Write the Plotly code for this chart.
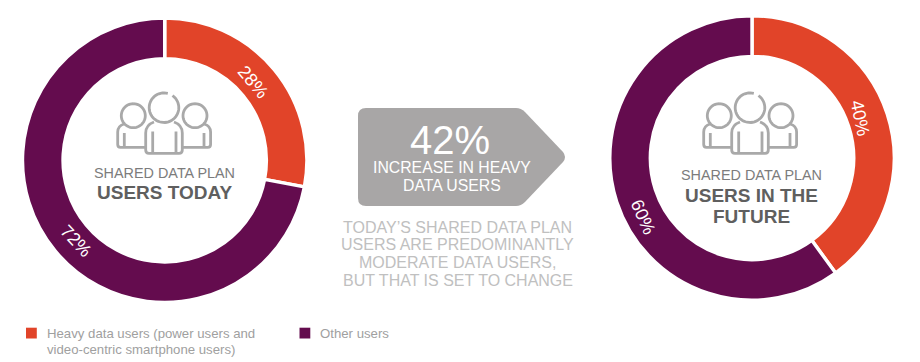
import math
import plotly.graph_objects as go

W, H = 920, 362

categories = ["Heavy data users", "Other users"]
today_values = [28, 72]
future_values = [40, 60]

ORANGE = "#E14429"
PURPLE = "#640C4E"
GREY_ICON = "#A9A9A9"
FONT = "Liberation Sans"


def px(x):
    return x / W


def py(y):
    return 1 - y / H


def path(cmds):
    out = []
    for c in cmds:
        if isinstance(c, str):
            out.append(c)
        else:
            out.append(f"{px(c[0]):.5f},{py(c[1]):.5f}")
    return " ".join(out)


fig = go.Figure()


def donut(values, cx, cy, r):
    fig.add_trace(go.Pie(
        labels=categories, values=values, hole=0.715, sort=False,
        direction="clockwise", rotation=0, textinfo="none", hoverinfo="skip",
        showlegend=False,
        marker=dict(colors=[ORANGE, PURPLE], line=dict(color="white", width=3.4)),
        domain=dict(x=[px(cx - r), px(cx + r)], y=[py(cy + r), py(cy - r)]),
    ))


donut(today_values, 164.7, 160.3, 142.2)
donut(future_values, 752, 158, 142.2)

shapes = []
annotations = []


def text(x, y, s, size, color, bold=False, angle=0, anchor="center"):
    annotations.append(dict(
        x=px(x), y=py(y), xref="paper", yref="paper", text=f"<b>{s}</b>" if bold else s,
        showarrow=False, textangle=angle, xanchor=anchor, yanchor="middle",
        font=dict(family=FONT, size=size, color=color),
    ))


def arc_path(cx, cy, r, a0, a1, n=48):
    pts = []
    for i in range(n + 1):
        a = math.radians(a0 + (a1 - a0) * i / n)
        pts.append((cx + r * math.sin(a), cy - r * math.cos(a)))
    return path(["M", pts[0]] + [c for p in pts[1:] for c in ("L", p)])


def icon(dx, dy):
    line = dict(color=GREY_ICON, width=2.8)

    def add(d):
        shapes.append(dict(type="path", xref="paper", yref="paper", path=d, line=line))

    def P(x, y):
        return (x + dx, y + dy)

    add(arc_path(164 + dx, 107.7 + dy, 14.8, 35, 375))
    add(arc_path(133.3 + dx, 115.7 + dy, 12, 0, 360))
    add(arc_path(195 + dx, 115.7 + dy, 12, 0, 360))
    # centre body
    add(path(["M", P(154, 122), "Q", P(145.7, 125), P(145.7, 133), "L", P(145.7, 150),
              "Q", P(145.7, 153.3), P(149, 153.3), "L", P(179, 153.3),
              "Q", P(182.3, 153.3), P(182.3, 150), "L", P(182.3, 133),
              "Q", P(182.3, 125), P(174, 122)]))
    add(path(["M", P(152.7, 131.5), "L", P(152.7, 153)]))
    add(path(["M", P(176, 131.5), "L", P(176, 153)]))
    # left body
    add(path(["M", P(124, 124), "Q", P(117.7, 126), P(117.7, 132), "L", P(117.7, 144.5),
              "Q", P(117.7, 147.3), P(120.5, 147.3), "L", P(145, 147.3)]))
    add(path(["M", P(124.3, 133), "L", P(124.3, 147)]))
    # right body
    add(path(["M", P(204.3, 124), "Q", P(210.6, 126), P(210.6, 132), "L", P(210.6, 144.5),
              "Q", P(210.6, 147.3), P(207.8, 147.3), "L", P(183, 147.3)]))
    add(path(["M", P(204, 133), "L", P(204, 147)]))


icon(0, 0)
icon(586, 0)

# arrow tag
shapes.append(dict(
    type="path", xref="paper", yref="paper", fillcolor="#A8A6A6",
    line=dict(color="#A8A6A6", width=0),
    path=path(["M", (366, 108), "L", (516, 108), "Q", (521, 108), (525, 112),
               "L", (563, 152), "Q", (567, 157), (563, 162),
               "L", (525, 202), "Q", (521, 206), (516, 206),
               "L", (366, 206), "Q", (358, 206), (358, 198),
               "L", (358, 116), "Q", (358, 108), (366, 108), "Z"]),
))

# legend swatches
for x0, color in ((26, ORANGE), (299.5, PURPLE)):
    shapes.append(dict(type="rect", xref="paper", yref="paper", x0=px(x0), x1=px(x0 + 10.8),
                       y0=py(338.5), y1=py(327.7), fillcolor=color, line=dict(color=color, width=0)))

# percentage labels
text(253, 82, f"{today_values[0]}%", 18, "white", angle=50)
text(76, 241, f"{today_values[1]}%", 18, "white", angle=47)
text(860, 118, f"{future_values[0]}%", 18, "white", angle=78)
text(643, 217, f"{future_values[1]}%", 18, "white", angle=66)

# centre labels
text(164.7, 173, "SHARED DATA PLAN", 14.4, "#7C7C7C")
text(164.7, 192.5, "USERS TODAY", 19, "#5F5F5F", bold=True)
text(751, 175, "SHARED DATA PLAN", 14.4, "#7C7C7C")
text(751, 195, "USERS IN THE", 19, "#5F5F5F", bold=True)
text(751, 216, "FUTURE", 19, "#5F5F5F", bold=True)

# arrow labels
text(450, 140, "42%", 40, "white")
text(451.7, 167, "INCREASE IN HEAVY", 15.8, "white")
text(451.7, 185, "DATA USERS", 15.8, "white")

# caption
for y, s in ((227, "TODAY\u2019S SHARED DATA PLAN"), (244.5, "USERS ARE PREDOMINANTLY"),
             (262.5, "MODERATE DATA USERS,"), (280.5, "BUT THAT IS SET TO CHANGE")):
    text(457.7, y, s, 16, "#C0C0C0")

# legend text
text(45, 333, "Heavy data users (power users and", 13.2, "#A0A0A0", anchor="left")
text(45, 349, "video-centric smartphone users)", 13.2, "#A0A0A0", anchor="left")
text(317.5, 333, categories[1], 13.2, "#A0A0A0", anchor="left")

fig.update_layout(
    width=W, height=H, margin=dict(l=0, r=0, t=0, b=0), autosize=False,
    paper_bgcolor="white", plot_bgcolor="white", shapes=shapes, annotations=annotations,
)
fig.write_html("out.html", config=dict(displayModeBar=False),
               post_script="document.body.style.margin='0';document.body.style.overflow='hidden';")
